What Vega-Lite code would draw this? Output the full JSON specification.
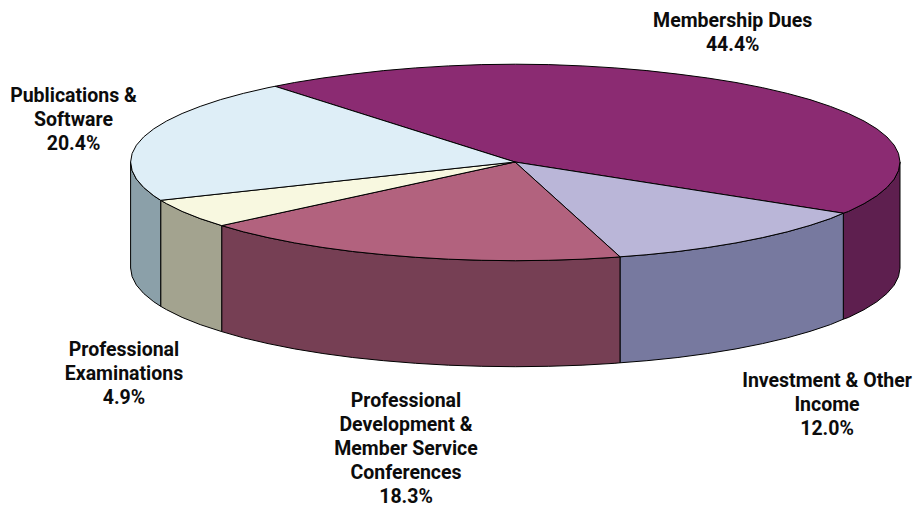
{
"$schema":"https://vega.github.io/schema/vega-lite/v6.json",
"width":913,"height":506,"padding":0,"autosize":{"type":"none"},
"background":"white",
"config":{"view":{"stroke":null}},
"datasets":{
"faces":[
{"part":"Membership Dues side","i":0,"x":900,"y":162},{"part":"Membership Dues side","i":1,"x":898.5,"y":170.6},{"part":"Membership Dues side","i":2,"x":894.2,"y":179.1},{"part":"Membership Dues side","i":3,"x":886.9,"y":187.5},{"part":"Membership Dues side","i":4,"x":876.8,"y":195.8},{"part":"Membership Dues side","i":5,"x":864,"y":203.7},{"part":"Membership Dues side","i":6,"x":848.5,"y":211.4},{"part":"Membership Dues side","i":7,"x":843.3,"y":213.2},{"part":"Membership Dues side","i":8,"x":843.3,"y":319.2},{"part":"Membership Dues side","i":9,"x":848.5,"y":317.4},{"part":"Membership Dues side","i":10,"x":864,"y":309.7},{"part":"Membership Dues side","i":11,"x":876.8,"y":301.8},{"part":"Membership Dues side","i":12,"x":886.9,"y":293.5},{"part":"Membership Dues side","i":13,"x":894.2,"y":285.1},{"part":"Membership Dues side","i":14,"x":898.5,"y":276.6},{"part":"Membership Dues side","i":15,"x":900,"y":268},{"part":"Membership Dues side","i":16,"x":900,"y":162},

{"part":"Investment side","i":0,"x":843.3,"y":213.2},{"part":"Investment side","i":1,"x":830.4,"y":218.6},{"part":"Investment side","i":2,"x":810,"y":225.4},{"part":"Investment side","i":3,"x":787.3,"y":231.8},{"part":"Investment side","i":4,"x":762.6,"y":237.6},{"part":"Investment side","i":5,"x":736,"y":242.9},{"part":"Investment side","i":6,"x":707.7,"y":247.5},{"part":"Investment side","i":7,"x":677.9,"y":251.5},{"part":"Investment side","i":8,"x":646.9,"y":254.7},{"part":"Investment side","i":9,"x":620,"y":256.8},{"part":"Investment side","i":10,"x":620,"y":362.8},{"part":"Investment side","i":11,"x":646.9,"y":360.7},{"part":"Investment side","i":12,"x":677.9,"y":357.5},{"part":"Investment side","i":13,"x":707.7,"y":353.5},{"part":"Investment side","i":14,"x":736,"y":348.9},{"part":"Investment side","i":15,"x":762.6,"y":343.6},{"part":"Investment side","i":16,"x":787.3,"y":337.8},{"part":"Investment side","i":17,"x":810,"y":331.4},{"part":"Investment side","i":18,"x":830.4,"y":324.6},{"part":"Investment side","i":19,"x":843.3,"y":319.2},{"part":"Investment side","i":20,"x":843.3,"y":213.2},

{"part":"Conferences side","i":0,"x":620,"y":256.8},{"part":"Conferences side","i":1,"x":614.9,"y":257.3},{"part":"Conferences side","i":2,"x":582.1,"y":259.2},{"part":"Conferences side","i":3,"x":548.8,"y":260.3},{"part":"Conferences side","i":4,"x":515.3,"y":260.7},{"part":"Conferences side","i":5,"x":481.8,"y":260.3},{"part":"Conferences side","i":6,"x":448.5,"y":259.2},{"part":"Conferences side","i":7,"x":415.7,"y":257.3},{"part":"Conferences side","i":8,"x":383.7,"y":254.7},{"part":"Conferences side","i":9,"x":352.7,"y":251.5},{"part":"Conferences side","i":10,"x":322.9,"y":247.5},{"part":"Conferences side","i":11,"x":294.6,"y":242.9},{"part":"Conferences side","i":12,"x":268,"y":237.6},{"part":"Conferences side","i":13,"x":243.3,"y":231.8},{"part":"Conferences side","i":14,"x":221.7,"y":225.6},{"part":"Conferences side","i":15,"x":221.7,"y":331.6},{"part":"Conferences side","i":16,"x":243.3,"y":337.8},{"part":"Conferences side","i":17,"x":268,"y":343.6},{"part":"Conferences side","i":18,"x":294.6,"y":348.9},{"part":"Conferences side","i":19,"x":322.9,"y":353.5},{"part":"Conferences side","i":20,"x":352.7,"y":357.5},{"part":"Conferences side","i":21,"x":383.7,"y":360.7},{"part":"Conferences side","i":22,"x":415.7,"y":363.3},{"part":"Conferences side","i":23,"x":448.5,"y":365.2},{"part":"Conferences side","i":24,"x":481.8,"y":366.3},{"part":"Conferences side","i":25,"x":515.3,"y":366.7},{"part":"Conferences side","i":26,"x":548.8,"y":366.3},{"part":"Conferences side","i":27,"x":582.1,"y":365.2},{"part":"Conferences side","i":28,"x":614.9,"y":363.3},{"part":"Conferences side","i":29,"x":620,"y":362.8},{"part":"Conferences side","i":30,"x":620,"y":256.8},

{"part":"Examinations side","i":0,"x":221.7,"y":225.6},{"part":"Examinations side","i":1,"x":200.2,"y":218.6},{"part":"Examinations side","i":2,"x":182.1,"y":211.4},{"part":"Examinations side","i":3,"x":166.6,"y":203.7},{"part":"Examinations side","i":4,"x":160.7,"y":200.3},{"part":"Examinations side","i":5,"x":160.7,"y":306.3},{"part":"Examinations side","i":6,"x":166.6,"y":309.7},{"part":"Examinations side","i":7,"x":182.1,"y":317.4},{"part":"Examinations side","i":8,"x":200.2,"y":324.6},{"part":"Examinations side","i":9,"x":221.7,"y":331.6},{"part":"Examinations side","i":10,"x":221.7,"y":225.6},

{"part":"Publications side","i":0,"x":160.7,"y":200.3},{"part":"Publications side","i":1,"x":153.8,"y":195.8},{"part":"Publications side","i":2,"x":143.7,"y":187.5},{"part":"Publications side","i":3,"x":136.4,"y":179.1},{"part":"Publications side","i":4,"x":132.1,"y":170.6},{"part":"Publications side","i":5,"x":130.6,"y":162},{"part":"Publications side","i":6,"x":130.6,"y":268},{"part":"Publications side","i":7,"x":132.1,"y":276.6},{"part":"Publications side","i":8,"x":136.4,"y":285.1},{"part":"Publications side","i":9,"x":143.7,"y":293.5},{"part":"Publications side","i":10,"x":153.8,"y":301.8},{"part":"Publications side","i":11,"x":160.7,"y":306.3},{"part":"Publications side","i":12,"x":160.7,"y":200.3},

{"part":"Membership Dues top","i":0,"x":515,"y":162},{"part":"Membership Dues top","i":1,"x":275,"y":86.3},{"part":"Membership Dues top","i":2,"x":294.6,"y":82.5},{"part":"Membership Dues top","i":3,"x":322.9,"y":78},{"part":"Membership Dues top","i":4,"x":352.7,"y":74.1},{"part":"Membership Dues top","i":5,"x":383.7,"y":70.6},{"part":"Membership Dues top","i":6,"x":415.7,"y":67.9},{"part":"Membership Dues top","i":7,"x":448.5,"y":65.9},{"part":"Membership Dues top","i":8,"x":481.8,"y":64.6},{"part":"Membership Dues top","i":9,"x":515.3,"y":64.2},{"part":"Membership Dues top","i":10,"x":548.8,"y":64.6},{"part":"Membership Dues top","i":11,"x":582.1,"y":65.9},{"part":"Membership Dues top","i":12,"x":614.9,"y":67.9},{"part":"Membership Dues top","i":13,"x":646.9,"y":70.6},{"part":"Membership Dues top","i":14,"x":677.9,"y":74.1},{"part":"Membership Dues top","i":15,"x":707.7,"y":78},{"part":"Membership Dues top","i":16,"x":736,"y":82.5},{"part":"Membership Dues top","i":17,"x":762.6,"y":87.7},{"part":"Membership Dues top","i":18,"x":787.3,"y":93.4},{"part":"Membership Dues top","i":19,"x":810,"y":99.6},{"part":"Membership Dues top","i":20,"x":830.4,"y":106.4},{"part":"Membership Dues top","i":21,"x":848.5,"y":113.5},{"part":"Membership Dues top","i":22,"x":864,"y":121},{"part":"Membership Dues top","i":23,"x":876.8,"y":128.8},{"part":"Membership Dues top","i":24,"x":886.9,"y":136.9},{"part":"Membership Dues top","i":25,"x":894.2,"y":145.2},{"part":"Membership Dues top","i":26,"x":898.5,"y":153.5},{"part":"Membership Dues top","i":27,"x":900,"y":162},{"part":"Membership Dues top","i":28,"x":898.5,"y":170.6},{"part":"Membership Dues top","i":29,"x":894.2,"y":179.1},{"part":"Membership Dues top","i":30,"x":886.9,"y":187.5},{"part":"Membership Dues top","i":31,"x":876.8,"y":195.8},{"part":"Membership Dues top","i":32,"x":864,"y":203.7},{"part":"Membership Dues top","i":33,"x":848.5,"y":211.4},{"part":"Membership Dues top","i":34,"x":843.3,"y":213.2},{"part":"Membership Dues top","i":35,"x":515,"y":162},

{"part":"Investment top","i":0,"x":515,"y":162},{"part":"Investment top","i":1,"x":843.3,"y":213.2},{"part":"Investment top","i":2,"x":830.4,"y":218.6},{"part":"Investment top","i":3,"x":810,"y":225.4},{"part":"Investment top","i":4,"x":787.3,"y":231.8},{"part":"Investment top","i":5,"x":762.6,"y":237.6},{"part":"Investment top","i":6,"x":736,"y":242.9},{"part":"Investment top","i":7,"x":707.7,"y":247.5},{"part":"Investment top","i":8,"x":677.9,"y":251.5},{"part":"Investment top","i":9,"x":646.9,"y":254.7},{"part":"Investment top","i":10,"x":620,"y":256.8},{"part":"Investment top","i":11,"x":515,"y":162},

{"part":"Conferences top","i":0,"x":515,"y":162},{"part":"Conferences top","i":1,"x":620,"y":256.8},{"part":"Conferences top","i":2,"x":614.9,"y":257.3},{"part":"Conferences top","i":3,"x":582.1,"y":259.2},{"part":"Conferences top","i":4,"x":548.8,"y":260.3},{"part":"Conferences top","i":5,"x":515.3,"y":260.7},{"part":"Conferences top","i":6,"x":481.8,"y":260.3},{"part":"Conferences top","i":7,"x":448.5,"y":259.2},{"part":"Conferences top","i":8,"x":415.7,"y":257.3},{"part":"Conferences top","i":9,"x":383.7,"y":254.7},{"part":"Conferences top","i":10,"x":352.7,"y":251.5},{"part":"Conferences top","i":11,"x":322.9,"y":247.5},{"part":"Conferences top","i":12,"x":294.6,"y":242.9},{"part":"Conferences top","i":13,"x":268,"y":237.6},{"part":"Conferences top","i":14,"x":243.3,"y":231.8},{"part":"Conferences top","i":15,"x":221.7,"y":225.6},{"part":"Conferences top","i":16,"x":515,"y":162},

{"part":"Examinations top","i":0,"x":515,"y":162},{"part":"Examinations top","i":1,"x":221.7,"y":225.6},{"part":"Examinations top","i":2,"x":200.2,"y":218.6},{"part":"Examinations top","i":3,"x":182.1,"y":211.4},{"part":"Examinations top","i":4,"x":166.6,"y":203.7},{"part":"Examinations top","i":5,"x":160.7,"y":200.3},{"part":"Examinations top","i":6,"x":515,"y":162},

{"part":"Publications top","i":0,"x":515,"y":162},{"part":"Publications top","i":1,"x":160.7,"y":200.3},{"part":"Publications top","i":2,"x":153.8,"y":195.8},{"part":"Publications top","i":3,"x":143.7,"y":187.5},{"part":"Publications top","i":4,"x":136.4,"y":179.1},{"part":"Publications top","i":5,"x":132.1,"y":170.6},{"part":"Publications top","i":6,"x":130.6,"y":162},{"part":"Publications top","i":7,"x":132.1,"y":153.5},{"part":"Publications top","i":8,"x":136.4,"y":145.2},{"part":"Publications top","i":9,"x":143.7,"y":136.9},{"part":"Publications top","i":10,"x":153.8,"y":128.8},{"part":"Publications top","i":11,"x":166.6,"y":121},{"part":"Publications top","i":12,"x":182.1,"y":113.5},{"part":"Publications top","i":13,"x":200.2,"y":106.4},{"part":"Publications top","i":14,"x":220.6,"y":99.6},{"part":"Publications top","i":15,"x":243.3,"y":93.4},{"part":"Publications top","i":16,"x":268,"y":87.7},{"part":"Publications top","i":17,"x":275,"y":86.3},{"part":"Publications top","i":18,"x":515,"y":162}
],
"labels":[
{"label":"Membership Dues\n44.4%","x":732.7,"y":20.5},
{"label":"Publications &\nSoftware\n20.4%","x":73.5,"y":95.5},
{"label":"Professional\nExaminations\n4.9%","x":124,"y":350},
{"label":"Professional\nDevelopment &\nMember Service\nConferences\n18.3%","x":406,"y":401},
{"label":"Investment & Other\nIncome\n12.0%","x":827,"y":380.5}
]
},
"layer":[
{"data":{"name":"faces"},
 "mark":{"type":"line","stroke":"black","strokeWidth":1,"strokeJoin":"round","filled":true,"clip":false},
 "encoding":{
  "x":{"field":"x","type":"quantitative","scale":{"domain":[0,913],"nice":false,"zero":false},"axis":null},
  "y":{"field":"y","type":"quantitative","scale":{"domain":[506,0],"nice":false,"zero":false},"axis":null},
  "order":{"field":"i","type":"quantitative"},
  "fill":{"field":"part","type":"nominal","legend":null,"scale":{
   "domain":["Membership Dues top","Membership Dues side","Investment top","Investment side","Conferences top","Conferences side","Examinations top","Examinations side","Publications top","Publications side"],
   "range":["#8B2B72","#5E1F4F","#BAB6D8","#77799F","#B2627E","#763F54","#F8F8E0","#A3A38F","#DEEEF7","#8BA0A9"]}},
  "stroke":{"value":"black"}
 }},
{"data":{"name":"labels"},
 "mark":{"type":"text","font":"Roboto","fontWeight":"bold","fontSize":19.5,"lineHeight":24,"lineBreak":"\n","align":"center","baseline":"middle","color":"#0c0c0c"},
 "encoding":{
  "x":{"field":"x","type":"quantitative","scale":{"domain":[0,913],"nice":false,"zero":false},"axis":null},
  "y":{"field":"y","type":"quantitative","scale":{"domain":[506,0],"nice":false,"zero":false},"axis":null},
  "text":{"field":"label"}
 }}
]
}
